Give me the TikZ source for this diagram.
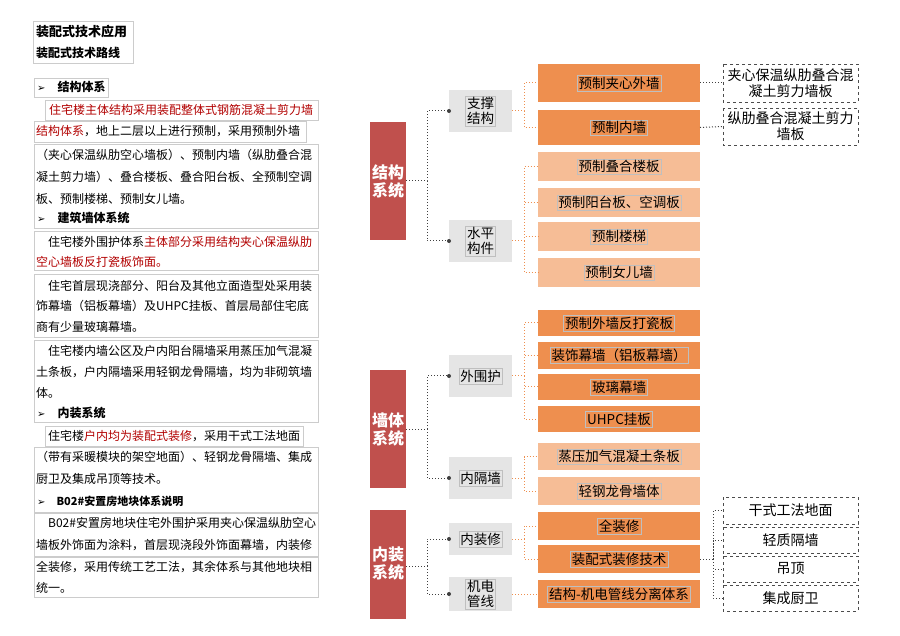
\documentclass[tikz,border=0pt]{standalone}
\usepackage{fontspec}
\setmainfont{Noto Sans CJK SC}
\newfontfamily\dv{DejaVu Sans}
\begin{document}
\begin{tikzpicture}[x=1pt,y=-1pt,
 lbox/.style={draw=black!20,line width=0.6pt},
 ln/.style={anchor=west,inner sep=0pt,font=\fontsize{12}{12}\selectfont},
 rt/.style={color=red!70!black},
 redb/.style={fill=c1,draw=none},
 grayb/.style={fill=black!10,draw=none},
 darkb/.style={fill=c2,draw=none},
 lightb/.style={fill=c3,draw=none},
 dashb/.style={draw=black!70,dashed,line width=0.8pt,fill=white},
 lab/.style={draw=black!25,line width=0.4pt,inner sep=1.5pt,font=\fontsize{13.5}{15}\selectfont,align=center},
 rlab/.style={text=white,font=\bfseries\fontsize{16}{18}\selectfont,align=center},
 bc/.style={draw=black!75,dotted,line width=1pt},
 oc/.style={draw=c2,dotted,line width=1pt},
 dot/.style={circle,fill=black!75,inner sep=0pt,minimum size=4pt}
]
\definecolor{c1}{HTML}{C0504D}
\definecolor{c2}{HTML}{EE8F4F}
\definecolor{c3}{HTML}{F6BD96}
\useasboundingbox[fill=white] (0,0) rectangle (900,636);
% ---------- left text ----------
\draw[lbox] (33,21) rectangle (133,63);
\node[ln,font=\bfseries\fontsize{13}{13}\selectfont] (t1) at (36,32) {装配式技术应用};
\node[ln,font=\bfseries\fontsize{12}{12}\selectfont] (t2) at (36,53) {装配式技术路线};
\draw[lbox] (34,78) rectangle (108,97);
\node[ln,font=\bfseries\fontsize{12}{12}\selectfont] (h1) at (37,87) {{\dv\fontsize{10}{10}\selectfont ➢}\quad 结构体系};
\draw[lbox] (45,100) rectangle (318,120);
\node[ln,rt] (a1) at (49,110) {住宅楼主体结构采用装配整体式钢筋混凝土剪力墙};
\draw[lbox] (34,121) rectangle (306,142);
\node[ln] (a2) at (36,131) {\textcolor{red!70!black}{结构体系}，地上二层以上进行预制，采用预制外墙};
\draw[lbox] (34,144) rectangle (318,228);
\node[ln] (a3) at (36,155) {（夹心保温纵肋空心墙板）、预制内墙（纵肋叠合混};
\node[ln] (a4) at (36,177) {凝土剪力墙）、叠合楼板、叠合阳台板、全预制空调};
\node[ln] (a5) at (36,199) {板、预制楼梯、预制女儿墙。};
\node[ln,font=\bfseries\fontsize{12}{12}\selectfont] (h2) at (37,218) {{\dv\fontsize{10}{10}\selectfont ➢}\quad 建筑墙体系统};
\draw[lbox] (34,231) rectangle (318,270);
\node[ln] (b1) at (48,242) {住宅楼外围护体系\textcolor{red!70!black}{主体部分采用结构夹心保温纵肋}};
\node[ln,rt] (b2) at (36,262) {空心墙板反打瓷板饰面。};
\draw[lbox] (34,274) rectangle (318,337);
\node[ln] (c1) at (48,286) {住宅首层现浇部分、阳台及其他立面造型处采用装};
\node[ln] (c2) at (36,306) {饰幕墙（铝板幕墙）及UHPC挂板、首层局部住宅底};
\node[ln] (c3) at (36,327) {商有少量玻璃幕墙。};
\draw[lbox] (34,340) rectangle (318,422);
\node[ln] (d1) at (48,351) {住宅楼内墙公区及户内阳台隔墙采用蒸压加气混凝};
\node[ln] (d2) at (36,372) {土条板，户内隔墙采用轻钢龙骨隔墙，均为非砌筑墙};
\node[ln] (d3) at (36,393) {体。};
\node[ln,font=\bfseries\fontsize{12}{12}\selectfont] (h3) at (37,413) {{\dv\fontsize{10}{10}\selectfont ➢}\quad 内装系统};
\draw[lbox] (45,426) rectangle (303,446);
\node[ln] (e1) at (48,436) {住宅楼\textcolor{red!70!black}{户内均为装配式装修}，采用干式工法地面};
\draw[lbox] (34,447) rectangle (318,512);
\node[ln] (e2) at (36,457) {（带有采暖模块的架空地面）、轻钢龙骨隔墙、集成};
\node[ln] (e3) at (36,479) {厨卫及集成吊顶等技术。};
\node[ln,font=\bfseries\fontsize{11}{11}\selectfont] (h4) at (37,501) {{\dv\fontsize{10}{10}\selectfont ➢}\quad B02\#安置房地块体系说明};
\draw[lbox] (34,513) rectangle (318,556);
\node[ln] (f1) at (48,523) {B02\#安置房地块住宅外围护采用夹心保温纵肋空心};
\node[ln] (f2) at (36,545) {墙板外饰面为涂料，首层现浇段外饰面幕墙，内装修};
\node[ln] (f3) at (36,567) {全装修，采用传统工艺工法，其余体系与其他地块相};
\node[ln] (f4) at (36,588) {统一。};
\draw[lbox] (34,557) rectangle (318,597);
% ---------- chart: level 1 ----------
\draw[redb] (370,122) rectangle (406,240); \node[rlab] (r1) at (388,181) {结构\\系统};
\draw[redb] (370,370) rectangle (406,488); \node[rlab] (r2) at (388,429) {墙体\\系统};
\draw[redb] (370,510) rectangle (406,619); \node[rlab] (r3) at (388,564) {内装\\系统};
\coordinate (r1e) at (406,181); \coordinate (r2e) at (406,429); \coordinate (r3e) at (406,566);
% ---------- level 2 ----------
\newcommand\gbox[5]{\draw[grayb] (449,#2) rectangle (512,#3);
 \node[lab,fill=black!10] (#1) at (480.5,{(#2+#3)/2}) {#4};
 \coordinate (#1w) at (449,{(#2+#3)/2}); \coordinate (#1e) at (512,{(#2+#3)/2});
 \node[dot] at (#1w) {};}
\gbox{g1}{90}{132}{支撑\\结构}{}
\gbox{g2}{220}{262}{水平\\构件}{}
\gbox{g3}{355}{397}{外围护}{}
\gbox{g4}{457}{499}{内隔墙}{}
\gbox{g5}{523}{555}{内装修}{}
\gbox{g6}{577}{611}{机电\\管线}{}
\draw[bc] (r1e) -- (427,181) |- (g1w); \draw[bc] (427,181) |- (g2w);
\draw[bc] (r2e) -- (427,429) |- (g3w); \draw[bc] (427,429) |- (g4w);
\draw[bc] (r3e) -- (427,566) |- (g5w); \draw[bc] (427,566) |- (g6w);
% ---------- level 3 ----------
\newcommand\obox[5]{\draw[#5] (538,#2) rectangle (700,#3);
 \node[lab] (#1) at (619,{(#2+#3)/2}) {#4};
 \coordinate (#1w) at (538,{(#2+#3)/2}); \coordinate (#1e) at (700,{(#2+#3)/2});}
\obox{s1}{64}{102}{预制夹心外墙}{darkb}
\obox{s2}{110}{145}{预制内墙}{darkb}
\obox{s3}{152}{181}{预制叠合楼板}{lightb}
\obox{s4}{188}{217}{预制阳台板、空调板}{lightb}
\obox{s5}{222}{251}{预制楼梯}{lightb}
\obox{s6}{258}{287}{预制女儿墙}{lightb}
\obox{w1}{310}{336}{预制外墙反打瓷板}{darkb}
\obox{w2}{342}{369}{装饰幕墙（铝板幕墙）}{darkb}
\obox{w3}{374}{400}{玻璃幕墙}{darkb}
\obox{w4}{406}{432}{UHPC挂板}{darkb}
\obox{w5}{443}{470}{蒸压加气混凝土条板}{lightb}
\obox{w6}{477}{505}{轻钢龙骨墙体}{lightb}
\obox{n1}{512}{540}{全装修}{darkb}
\obox{n2}{545}{573}{装配式装修技术}{darkb}
\obox{n3}{580}{608}{结构-机电管线分离体系}{darkb}
\draw[oc] (g1e) -- (524,111) |- (s1w); \draw[oc] (524,111) |- (s2w);
\draw[oc] (g2e) -- (524,241) |- (s3w); \draw[oc] (524,241) |- (s4w);
\draw[oc] (524,241) |- (s5w); \draw[oc] (524,241) |- (s6w);
\draw[oc] (g3e) -- (524,376) |- (w1w); \draw[oc] (524,376) |- (w2w);
\draw[oc] (524,376) |- (w3w); \draw[oc] (524,376) |- (w4w);
\draw[oc] (g4e) -- (524,478) |- (w5w); \draw[oc] (524,478) |- (w6w);
\draw[oc] (g5e) -- (524,539) |- (n1w); \draw[oc] (524,539) |- (n2w);
\draw[oc] (g6e) -- (n3w);
% ---------- level 4 ----------
\newcommand\dbox[4]{\draw[dashb] (723,#2) rectangle (858,#3);
 \node[font=\fontsize{14}{16}\selectfont,align=center] (#1) at (790.5,{(#2+#3)/2}) {#4};
 \coordinate (#1w) at (723,{(#2+#3)/2});}
\dbox{k1}{64}{102}{夹心保温纵肋叠合混\\凝土剪力墙板}
\dbox{k2}{108}{145}{纵肋叠合混凝土剪力\\墙板}
\dbox{m1}{497}{524}{干式工法地面}
\dbox{m2}{527}{553}{轻质隔墙}
\dbox{m3}{556}{582}{吊顶}
\dbox{m4}{585}{611}{集成厨卫}
\draw[bc] (s1e) -- (k1w); \draw[bc] (s2e) -- (k2w);
\draw[bc] (n2e) -- (713,559) |- (m1w); \draw[bc] (713,559) |- (m2w);
\draw[bc] (713,559) |- (m3w); \draw[bc] (713,559) |- (m4w);
\end{tikzpicture}
\end{document}
